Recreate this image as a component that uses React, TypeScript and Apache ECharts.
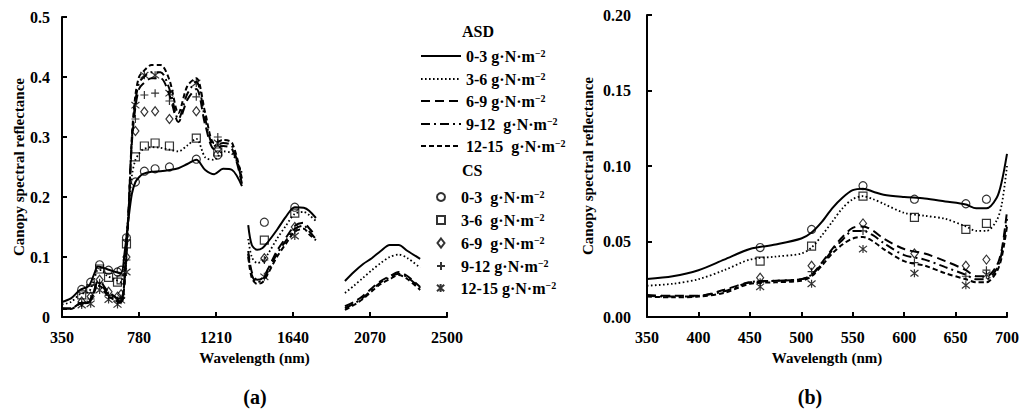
import React, { useEffect, useRef } from "react";
import * as echarts from "echarts";

// ---------- data ----------
const LEFT_WL = [350, 400, 450, 500, 530, 550, 570, 600, 650, 680, 700, 720, 740, 760, 780, 800, 850, 900, 950, 1000, 1050, 1100, 1150, 1200, 1250, 1300, 1355, 1370, 1390, 1410, 1440, 1470, 1500, 1550, 1600, 1650, 1700, 1730, 1768, 1850, 1930, 1980, 2030, 2080, 2130, 2180, 2230, 2280, 2350];

const ASD_L_03 = [0.025, 0.031, 0.045, 0.052, 0.072, 0.084, 0.083, 0.08, 0.075, 0.073, 0.108, 0.16, 0.205, 0.225, 0.233, 0.238, 0.242, 0.243, 0.245, 0.248, 0.255, 0.262, 0.245, 0.238, 0.247, 0.245, 0.218, null, 0.153, 0.12, 0.112, 0.115, 0.125, 0.145, 0.167, 0.183, 0.182, 0.177, 0.165, null, 0.06, 0.075, 0.088, 0.098, 0.11, 0.12, 0.12, 0.11, 0.097];
const ASD_L_36 = [0.021, 0.025, 0.038, 0.042, 0.063, 0.078, 0.078, 0.069, 0.062, 0.058, 0.1, 0.17, 0.235, 0.262, 0.272, 0.279, 0.283, 0.282, 0.279, 0.276, 0.286, 0.297, 0.266, 0.262, 0.276, 0.272, 0.24, null, 0.13, 0.1, 0.09, 0.093, 0.105, 0.13, 0.152, 0.172, 0.175, 0.17, 0.16, null, 0.04, 0.052, 0.065, 0.078, 0.09, 0.1, 0.104, 0.098, 0.082];
const ASD_L_69 = [0.0145, 0.014, 0.023, 0.025, 0.045, 0.059, 0.057, 0.045, 0.033, 0.027, 0.07, 0.17, 0.29, 0.35, 0.38, 0.388, 0.398, 0.398, 0.37, 0.325, 0.362, 0.38, 0.32, 0.28, 0.285, 0.28, 0.222, null, 0.11, 0.075, 0.062, 0.065, 0.08, 0.11, 0.132, 0.152, 0.157, 0.148, 0.135, null, 0.018, 0.025, 0.035, 0.048, 0.06, 0.068, 0.075, 0.068, 0.05];
const ASD_L_912 = [0.014, 0.014, 0.023, 0.025, 0.044, 0.057, 0.054, 0.041, 0.03, 0.025, 0.065, 0.165, 0.295, 0.36, 0.39, 0.398, 0.408, 0.408, 0.38, 0.33, 0.372, 0.392, 0.33, 0.285, 0.29, 0.285, 0.225, null, 0.105, 0.07, 0.058, 0.062, 0.076, 0.105, 0.127, 0.147, 0.152, 0.143, 0.13, null, 0.015, 0.022, 0.032, 0.045, 0.058, 0.066, 0.072, 0.066, 0.048];
const ASD_L_1215 = [0.0135, 0.0135, 0.022, 0.024, 0.042, 0.052, 0.05, 0.037, 0.027, 0.023, 0.06, 0.16, 0.3, 0.37, 0.4, 0.408, 0.42, 0.42, 0.395, 0.34, 0.385, 0.398, 0.34, 0.29, 0.295, 0.29, 0.23, null, 0.1, 0.065, 0.055, 0.058, 0.072, 0.1, 0.122, 0.142, 0.147, 0.138, 0.128, null, 0.012, 0.02, 0.03, 0.043, 0.055, 0.063, 0.07, 0.063, 0.045];

const RIGHT_WL = [350, 375, 400, 425, 450, 475, 500, 510, 520, 530, 540, 550, 560, 570, 580, 600, 620, 640, 660, 670, 680, 690, 695, 700];
const ASD_R_03 = [0.0252, 0.027, 0.031, 0.038, 0.045, 0.048, 0.052, 0.056, 0.063, 0.072, 0.079, 0.084, 0.085, 0.083, 0.081, 0.0795, 0.0785, 0.0765, 0.0745, 0.072, 0.072, 0.079, 0.09, 0.108];
const ASD_R_36 = [0.0207, 0.022, 0.025, 0.031, 0.038, 0.04, 0.042, 0.046, 0.054, 0.063, 0.072, 0.078, 0.08, 0.078, 0.075, 0.069, 0.067, 0.065, 0.06, 0.057, 0.057, 0.064, 0.075, 0.1];
const ASD_R_69 = [0.0145, 0.014, 0.014, 0.018, 0.023, 0.024, 0.025, 0.028, 0.036, 0.045, 0.053, 0.059, 0.06, 0.057, 0.052, 0.045, 0.042, 0.037, 0.031, 0.027, 0.027, 0.034, 0.045, 0.07];
const ASD_R_912 = [0.014, 0.0135, 0.014, 0.017, 0.023, 0.024, 0.025, 0.028, 0.035, 0.044, 0.051, 0.057, 0.057, 0.054, 0.049, 0.041, 0.038, 0.033, 0.028, 0.025, 0.025, 0.032, 0.043, 0.065];
const ASD_R_1215 = [0.0135, 0.013, 0.0135, 0.016, 0.022, 0.023, 0.024, 0.027, 0.034, 0.042, 0.048, 0.052, 0.053, 0.05, 0.045, 0.037, 0.034, 0.029, 0.025, 0.023, 0.023, 0.03, 0.04, 0.06];

const CS_WL = [460, 510, 560, 610, 660, 680, 710, 760, 810, 870, 950, 1100, 1220, 1480, 1650];
const CS_03 = [0.046, 0.058, 0.087, 0.078, 0.075, 0.078, 0.132, 0.225, 0.243, 0.247, 0.25, 0.263, 0.27, 0.158, 0.183];
const CS_36 = [0.037, 0.047, 0.08, 0.066, 0.058, 0.062, 0.122, 0.267, 0.285, 0.29, 0.285, 0.298, 0.275, 0.128, 0.173];
const CS_69 = [0.026, 0.034, 0.062, 0.042, 0.034, 0.038, 0.1, 0.31, 0.342, 0.343, 0.33, 0.343, 0.28, 0.098, 0.15];
const CS_912 = [0.023, 0.03, 0.057, 0.036, 0.027, 0.031, 0.095, 0.33, 0.37, 0.373, 0.36, 0.367, 0.3, 0.095, 0.145];
const CS_1215 = [0.02, 0.022, 0.045, 0.029, 0.021, 0.028, 0.075, 0.353, 0.403, 0.403, 0.373, 0.39, 0.29, 0.067, 0.135];
const RIGHT_CS_COUNT = 6;

const GROUPS = ["0-3", "3-6", "6-9", "9-12", "12-15"];
const ASD_LABELS = ["0-3 ", "3-6 ", "6-9 ", "9-12  ", "12-15  "];
const CS_LABELS = ["0-3  ", "3-6  ", "6-9  ", "9-12 ", "12-15 "];
const X_TICKS_LEFT = [350, 780, 1210, 1640, 2070, 2500];

// ---------- styles ----------
const FONT = '"Liberation Serif", "Times New Roman", serif';
const LINE_TYPES: any[] = ["solid", [1.6, 2.4], [9, 5], [9, 4, 2, 4], [5, 3]];
const LINE_WIDTHS = [2, 1.8, 2, 2, 2];
const SYMBOLS = [
  "circle",
  "rect",
  "diamond",
  "path://M5,0L5,10M0,5L10,5",
  "path://M5,0L5,10M0.5,1L9.5,9M0.5,9L9.5,1",
];
const SYMBOL_SIZES: any[] = [8, 8, [7, 9], 8, 8];
const LEGEND_SYMBOL_H = [8, 8, 9, 8, 8];
const LEGEND_SYMBOL_W = [8, 8, 7, 8, 8];

const ASD_LEFT = [ASD_L_03, ASD_L_36, ASD_L_69, ASD_L_912, ASD_L_1215];
const ASD_RIGHT = [ASD_R_03, ASD_R_36, ASD_R_69, ASD_R_912, ASD_R_1215];
const CS_ALL = [CS_03, CS_36, CS_69, CS_912, CS_1215];

const ASD_TOPS = [51, 74, 96, 119, 141];
const CS_TOPS = [192, 215, 238, 261, 283];

const pair = (xs: number[], ys: (number | null)[]) =>
  xs.map((x, i) => [x, ys[i] == null ? "-" : ys[i]]);

const axisCommon = {
  axisLine: { show: true, lineStyle: { color: "#000", width: 2 } },
  splitLine: { show: false },
};
const labelStyle = {
  color: "#000",
  fontFamily: FONT,
  fontWeight: "bold",
  fontSize: 16,
};
const nameStyle = {
  color: "#000",
  fontFamily: FONT,
  fontWeight: "bold",
  fontSize: 15,
};

export default function App() {
  const ref = useRef<HTMLDivElement>(null);
  useEffect(() => {
    document.body.style.margin = "0";
    if (!ref.current) return;
    const chart = echarts.init(ref.current, null, { renderer: "svg" });

    const series: any[] = [];
    GROUPS.forEach((g, i) => {
      const lineBase = {
        type: "line",
        name: "ASD " + g,
        symbol: "none",
        showSymbol: false,
        smooth: 0.3,
        connectNulls: false,
        lineStyle: { color: "#000", width: LINE_WIDTHS[i], type: LINE_TYPES[i] },
        itemStyle: { color: "#000" },
        z: 2,
      };
      series.push({ ...lineBase, xAxisIndex: 0, yAxisIndex: 0, data: pair(LEFT_WL, ASD_LEFT[i]) });
      series.push({ ...lineBase, xAxisIndex: 1, yAxisIndex: 1, data: pair(RIGHT_WL, ASD_RIGHT[i]) });
    });
    GROUPS.forEach((g, i) => {
      const scBase = {
        type: "scatter",
        name: "CS " + g,
        symbol: SYMBOLS[i],
        symbolSize: SYMBOL_SIZES[i],
        itemStyle: { color: "rgba(0,0,0,0)", borderColor: "#000", borderWidth: 1.2 },
        z: 5,
      };
      series.push({ ...scBase, xAxisIndex: 0, yAxisIndex: 0, data: pair(CS_WL, CS_ALL[i]) });
      series.push({
        ...scBase,
        xAxisIndex: 1,
        yAxisIndex: 1,
        data: pair(CS_WL.slice(0, RIGHT_CS_COUNT), CS_ALL[i].slice(0, RIGHT_CS_COUNT)),
      });
    });

    const rich = {
      t: { fontFamily: FONT, fontWeight: "bold", fontSize: 16, color: "#000", lineHeight: 16 },
      s: { fontFamily: FONT, fontWeight: "bold", fontSize: 10, color: "#000", lineHeight: 10, verticalAlign: "top" },
    };
    const legends: any[] = [];
    GROUPS.forEach((g, i) => {
      legends.push({
        left: 415,
        top: ASD_TOPS[i] - 8,
        itemWidth: 40,
        itemHeight: 16,
        selectedMode: false,
        itemStyle: { color: "rgba(0,0,0,0)", borderColor: "rgba(0,0,0,0)", borderWidth: 0 },
        data: ["ASD " + g],
        formatter: () => `{t|${ASD_LABELS[i]}g·N·m}{s|−2}`,
        textStyle: { rich },
      });
      const w = LEGEND_SYMBOL_W[i];
      legends.push({
        left: 435 - w / 2,
        top: CS_TOPS[i] - 8,
        itemWidth: w,
        itemHeight: LEGEND_SYMBOL_H[i],
        selectedMode: false,
        data: ["CS " + g],
        formatter: () => `{t|${CS_LABELS[i]}g·N·m}{s|−2}`,
        textStyle: { rich, padding: [0, 0, 0, 460 - (435 + w / 2) - 10] },
      });
    });

    const textEl = (x: number, y: number, text: string, size: number, align = "left") => ({
      type: "text",
      x,
      y,
      style: {
        text,
        font: `bold ${size}px ${FONT}`,
        fill: "#000",
        align,
        verticalAlign: "middle",
        textAlign: align,
        textVerticalAlign: "middle",
      },
    });

    chart.setOption({
      animation: false,
      backgroundColor: "#fff",
      grid: [
        { left: 62, top: 17, width: 385, height: 300 },
        { left: 647, top: 15, width: 360, height: 302 },
      ],
      xAxis: [
        {
          ...axisCommon,
          type: "value",
          gridIndex: 0,
          min: 350,
          max: 2500,
          axisTick: { show: true, inside: true, length: 5, customValues: X_TICKS_LEFT, lineStyle: { color: "#000", width: 2 } },
          axisLabel: { ...labelStyle, margin: 12, customValues: X_TICKS_LEFT, formatter: (v: number) => String(v) },
          name: "Wavelength (nm)",
          nameLocation: "middle",
          nameGap: 33,
          nameTextStyle: nameStyle,
        },
        {
          ...axisCommon,
          type: "value",
          gridIndex: 1,
          min: 350,
          max: 700,
          interval: 50,
          axisTick: { show: true, inside: true, length: 5, lineStyle: { color: "#000", width: 2 } },
          axisLabel: { ...labelStyle, margin: 12, formatter: (v: number) => String(v) },
          name: "Wavelength (nm)",
          nameLocation: "middle",
          nameGap: 33,
          nameTextStyle: nameStyle,
        },
      ],
      yAxis: [
        {
          ...axisCommon,
          type: "value",
          gridIndex: 0,
          min: 0,
          max: 0.5,
          interval: 0.1,
          axisTick: { show: true, inside: true, length: 5, lineStyle: { color: "#000", width: 2 } },
          axisLabel: { ...labelStyle, margin: 12, formatter: (v: number) => (v === 0 ? "0" : v.toFixed(1)) },
          name: "Canopy spectral reflectance",
          nameLocation: "middle",
          nameGap: 36,
          nameRotate: 90,
          nameTextStyle: nameStyle,
        },
        {
          ...axisCommon,
          type: "value",
          gridIndex: 1,
          min: 0,
          max: 0.2,
          interval: 0.05,
          axisTick: { show: true, inside: true, length: 5, lineStyle: { color: "#000", width: 2 } },
          axisLabel: { ...labelStyle, margin: 16, formatter: (v: number) => v.toFixed(2) },
          name: "Canopy spectral reflectance",
          nameLocation: "middle",
          nameGap: 52,
          nameRotate: 90,
          nameTextStyle: nameStyle,
        },
      ],
      legend: legends,
      graphic: [
        textEl(462, 31, "ASD", 16),
        textEl(462, 170, "CS", 16),
        textEl(255, 397, "(a)", 20, "center"),
        textEl(810, 397, "(b)", 20, "center"),
      ],
      series,
    });
    return () => chart.dispose();
  }, []);
  return <div ref={ref} style={{ width: 1024, height: 413 }} />;
}
